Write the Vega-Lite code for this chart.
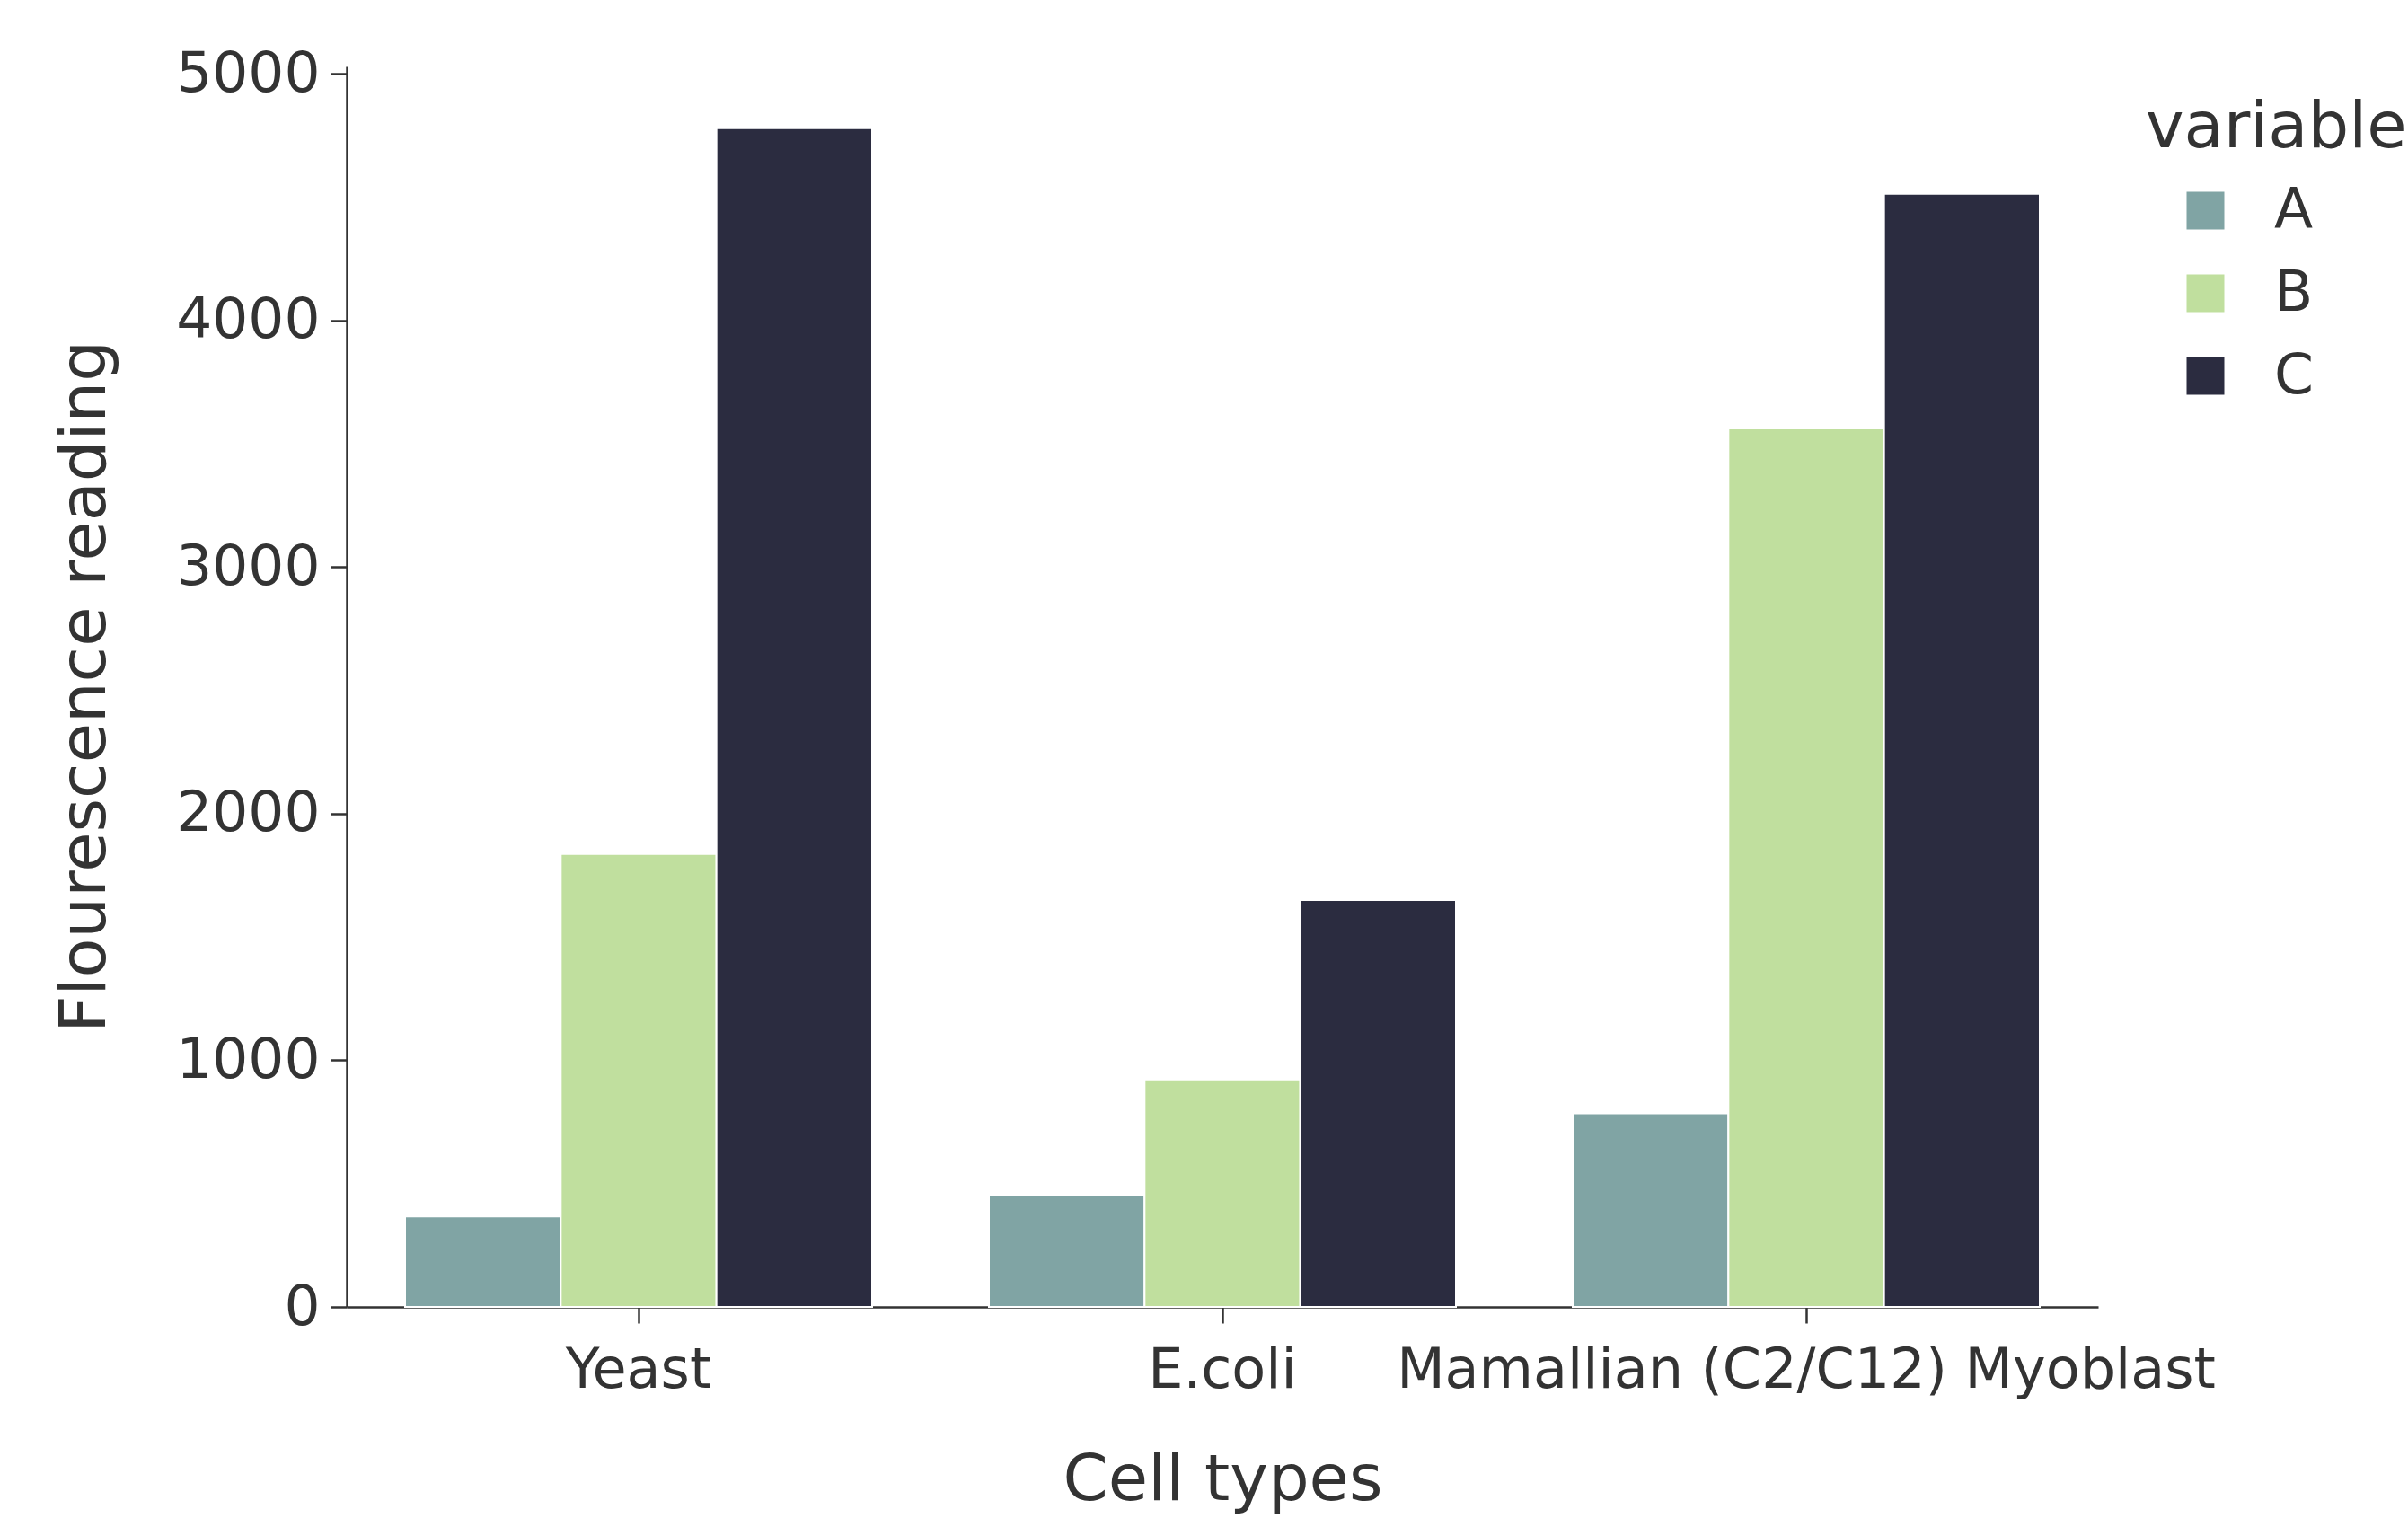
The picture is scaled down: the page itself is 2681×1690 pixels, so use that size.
{
  "$schema": "https://vega.github.io/schema/vega-lite/v6.json",
  "width": 1950,
  "height": 1381,
  "autosize": {"type": "none"},
  "padding": {"left": 386, "top": 74, "right": 345, "bottom": 235},
  "background": "white",
  "config": {"view": {"stroke": null}, "font": "DejaVu Sans"},
  "data": {
    "values": [
      {"cell": "Yeast", "variable": "A", "value": 367},
      {"cell": "Yeast", "variable": "B", "value": 1837},
      {"cell": "Yeast", "variable": "C", "value": 4780},
      {"cell": "E.coli", "variable": "A", "value": 455},
      {"cell": "E.coli", "variable": "B", "value": 922},
      {"cell": "E.coli", "variable": "C", "value": 1650},
      {"cell": "Mamallian (C2/C12) Myoblast", "variable": "A", "value": 785},
      {"cell": "Mamallian (C2/C12) Myoblast", "variable": "B", "value": 3562},
      {"cell": "Mamallian (C2/C12) Myoblast", "variable": "C", "value": 4514}
    ]
  },
  "mark": {"type": "bar", "stroke": "white", "strokeWidth": 2},
  "encoding": {
    "x": {
      "field": "cell",
      "type": "nominal",
      "sort": null,
      "scale": {"paddingInner": 0.2, "paddingOuter": 0.1},
      "axis": {
        "title": "Cell types",
        "titleFontSize": 72,
        "titleFontWeight": "normal",
        "titleColor": "#333333",
        "titleX": 975,
        "titleY": 192,
        "titleBaseline": "middle",
        "labelFontSize": 62,
        "labelColor": "#333333",
        "labelPadding": 22,
        "labelAngle": 0,
        "labelLimit": 0,
        "tickSize": 18,
        "tickWidth": 2.5,
        "tickColor": "#333333",
        "domainColor": "#333333",
        "domainWidth": 2.5,
        "grid": false
      }
    },
    "xOffset": {
      "field": "variable",
      "type": "nominal",
      "scale": {"paddingInner": 0, "paddingOuter": 0}
    },
    "y": {
      "field": "value",
      "type": "quantitative",
      "scale": {"domain": [0, 5030], "nice": false},
      "axis": {
        "title": "Flourescence reading",
        "titleFontSize": 72,
        "titleFontWeight": "normal",
        "titleColor": "#333333",
        "titleX": -292,
        "titleY": 690,
        "titleAngle": 270,
        "titleBaseline": "middle",
        "titleAlign": "center",
        "titleLimit": 0,
        "values": [0, 1000, 2000, 3000, 4000, 5000],
        "format": "d",
        "labelFontSize": 63,
        "labelColor": "#333333",
        "labelPadding": 12,
        "tickSize": 18,
        "tickWidth": 2.5,
        "tickColor": "#333333",
        "domainColor": "#333333",
        "domainWidth": 2.5,
        "grid": false
      }
    },
    "color": {
      "field": "variable",
      "type": "nominal",
      "scale": {"domain": ["A", "B", "C"], "range": ["#80a4a4", "#c0df9e", "#2b2c40"]},
      "legend": {
        "orient": "none",
        "legendX": 2003,
        "legendY": 33,
        "title": "variable",
        "titleFontSize": 72,
        "titleFontWeight": "normal",
        "titleColor": "#333333",
        "titlePadding": 24,
        "titleLimit": 0,
        "labelFontSize": 63,
        "labelColor": "#333333",
        "labelOffset": 45,
        "labelLimit": 0,
        "symbolType": "square",
        "symbolSize": 1764,
        "symbolStrokeWidth": 0,
        "symbolOpacity": 1,
        "symbolOffset": 35,
        "rowPadding": 28
      }
    }
  }
}
